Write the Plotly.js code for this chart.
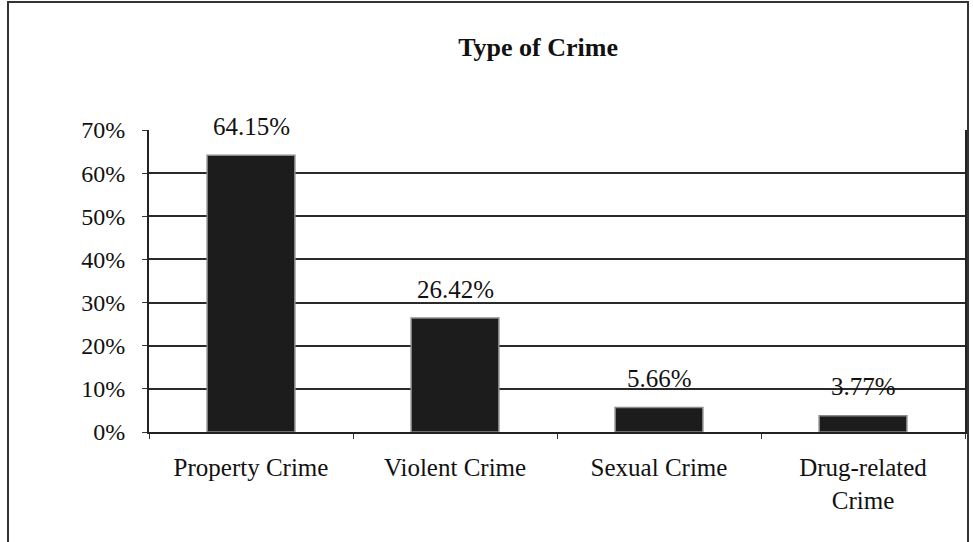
<!DOCTYPE html>
<html>
<head>
<meta charset="utf-8">
<script src="https://cdn.plot.ly/plotly-3.0.1.min.js"></script>
<style>html,body{margin:0;padding:0;background:#fff;}#chart{width:973px;height:542px;}</style>
</head>
<body>
<div id="chart"></div>
<script>
const categories = ["Property Crime", "Violent Crime", "Sexual Crime", "Drug-related<br>Crime"];
const values = [64.15, 26.42, 5.66, 3.77];
const valueLabels = ["64.15%", "26.42%", "5.66%", "3.77%"];
const yTickVals = [0, 10, 20, 30, 40, 50, 60, 70];
const yTickText = ["0%", "10%", "20%", "30%", "40%", "50%", "60%", "70%"];

const font = "Liberation Serif";

const trace = {
  type: "bar",
  x: categories,
  y: values,
  width: 0.43,
  marker: { color: "#1c1c1c", line: { color: "#8a8a8a", width: 1.5 } },
  hoverinfo: "skip"
};

const annotations = categories.map((c, i) => ({
  x: c, y: values[i], xref: "x", yref: "y",
  text: valueLabels[i], showarrow: false,
  yanchor: "middle", yshift: 29,
  font: { family: font, size: 25, color: "#111" }
}));

const layout = {
  width: 973, height: 542,
  margin: { l: 149, r: 8, t: 130, b: 110 },
  paper_bgcolor: "#fff", plot_bgcolor: "#fff",
  showlegend: false,
  title: { text: "<b>Type of Crime</b>", x: 0.553, xanchor: "center", y: 0.913, yanchor: "middle",
           font: { family: font, size: 26, color: "#111" } },
  xaxis: {
    type: "category", tickson: "boundaries", ticks: "outside", ticklen: 5, tickcolor: "#333",
    showline: true, linecolor: "#222", linewidth: 2, showgrid: false,
    ticklabelstandoff: 12,
    tickfont: { family: font, size: 25, color: "#111" }, automargin: false
  },
  yaxis: {
    range: [0, 70], tickvals: yTickVals, ticktext: yTickText,
    ticks: "outside", ticklen: 5, tickcolor: "#333",
    ticklabelstandoff: 12,
    showline: true, linecolor: "#222", linewidth: 2, mirror: true,
    showgrid: true, gridcolor: "#2a2a2a", gridwidth: 2, zeroline: false,
    tickfont: { family: font, size: 24, color: "#111" }, automargin: false
  },
  annotations: annotations,
  shapes: [
    { type: "rect", xref: "paper", yref: "paper",
      x0: -141/816, x1: 1 + 3/816, y0: -130/302, y1: 1 + 128/302,
      line: { color: "#333", width: 2 }, fillcolor: "rgba(0,0,0,0)" }
  ]
};

Plotly.newPlot("chart", [trace], layout, { displayModeBar: false, staticPlot: true });
</script>
</body>
</html>
